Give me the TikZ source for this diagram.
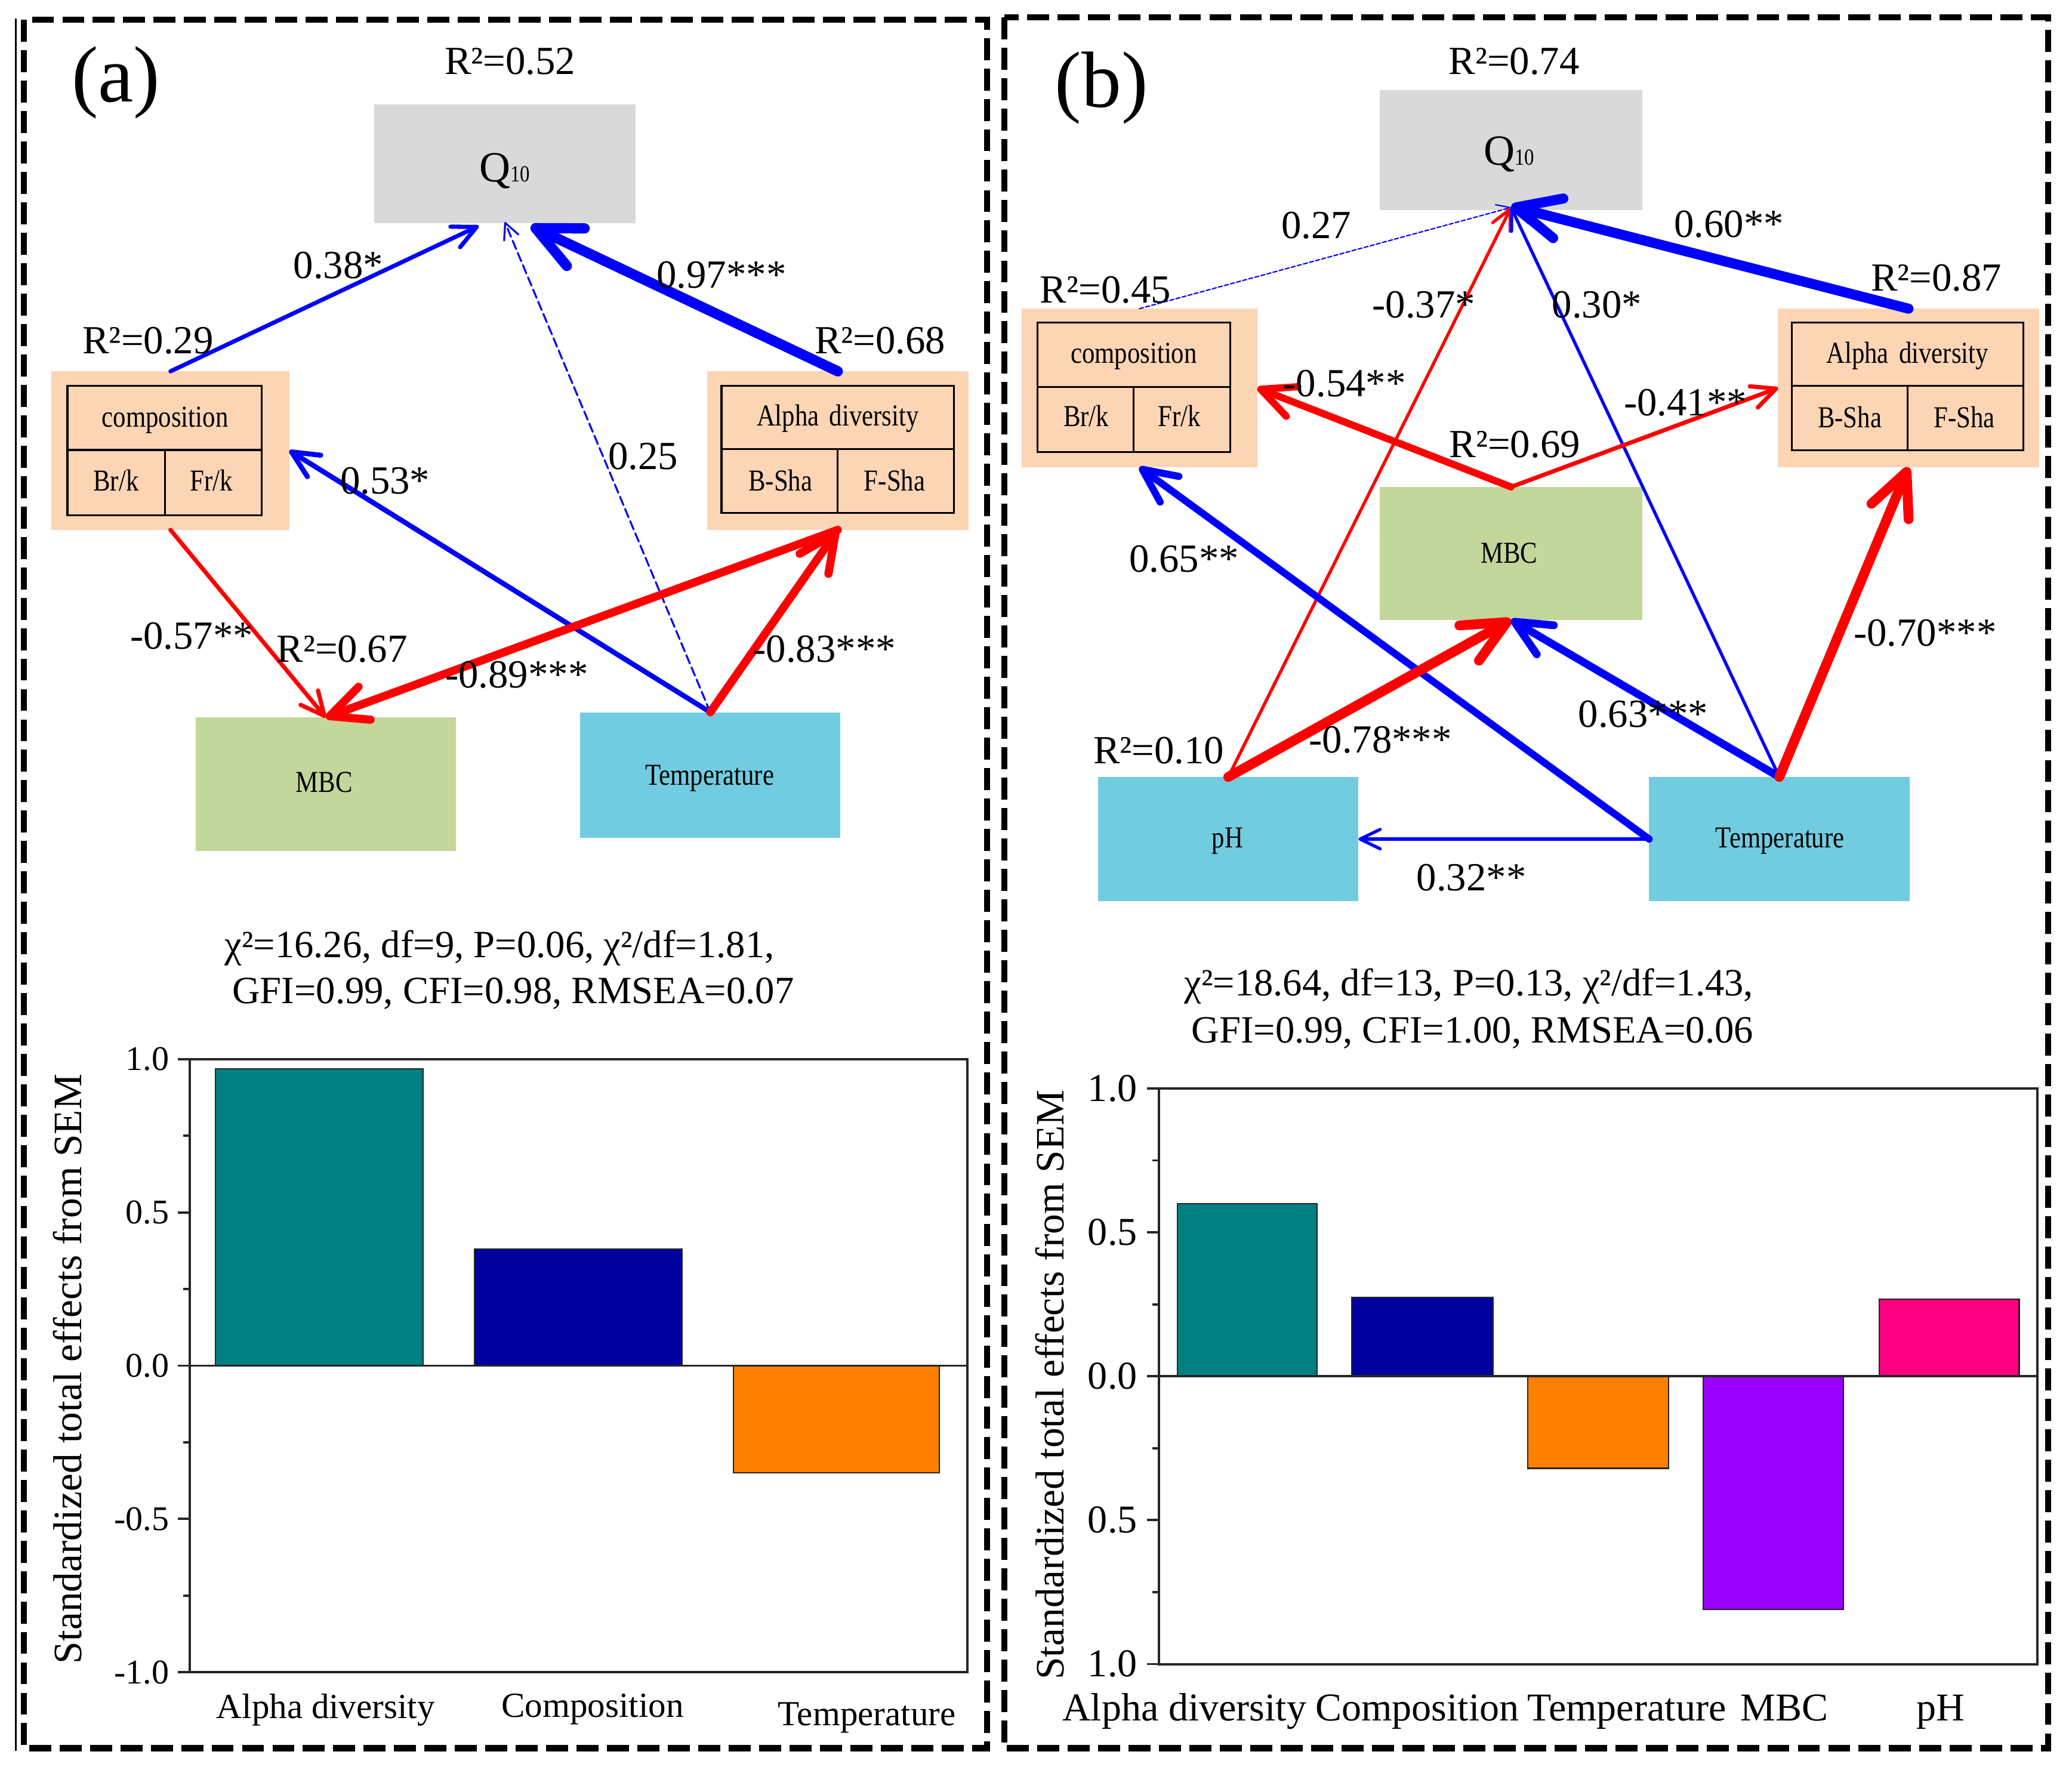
\documentclass[tikz,border=0pt]{standalone}
\usepackage{fontspec}
\usepackage{graphicx}
\setmainfont{Liberation Serif}
\usetikzlibrary{arrows.meta,calc,fit}
\newcommand\fsz[1]{\fontsize{#1}{#1}\selectfont}
\newcommand\boxtext[1]{\scalebox{0.84}[1]{#1}}
\definecolor{qgray}{HTML}{D9D9D9}
\definecolor{peach}{HTML}{FCD5B5}
\definecolor{mbcgreen}{HTML}{C3D69B}
\definecolor{tempblue}{HTML}{72CCE0}
\definecolor{ablue}{HTML}{0000FF}
\definecolor{ared}{HTML}{FF0000}
\definecolor{barteal}{HTML}{008080}
\definecolor{barnavy}{HTML}{0000A0}
\definecolor{barorange}{HTML}{FF8000}
\definecolor{barpurple}{HTML}{9900FF}
\definecolor{barpink}{HTML}{FF0080}
\definecolor{axisgray}{HTML}{262626}
\tikzset{
  boxnode/.style={inner sep=0pt, outer sep=0pt},
  tabnode/.style={inner sep=0pt, outer sep=0pt, draw=black, line width=0.9pt},
  tabline/.style={draw=black, line width=0.9pt},
  lab/.style={inner sep=0pt, anchor=base, font=\fsz{19pt}},
  btxt/.style={inner sep=0pt, anchor=base, font=\fsz{14.5pt}},
  ticklab/.style={inner sep=0pt, anchor=east},
  arr/.style={-{Straight Barb[length=4.5pt 3.4, width=4.6pt 3.1, round]}, line cap=round},
  bluearr/.style={arr, draw=ablue, line width=#1},
  redarr/.style={arr, draw=ared, line width=#1},
  panelborder/.style={draw=black, line width=3pt, dash pattern=on 10.5pt off 4pt},
  axisline/.style={draw=axisgray, line width=1.1pt},
  bar/.style={draw=axisgray, line width=0.6pt},
}
\begin{document}
\begin{tikzpicture}[x=0.022143cm, y=-0.022143cm]
\useasboundingbox (0,0) rectangle (1568,1336.78);
\fill[white] (0,0) rectangle (1568,1336.78);

% ---------- panel borders
\draw[panelborder] (18,15) rectangle (747,1323);
\draw[panelborder] (760,13) rectangle (1550,1323);
\draw[line width=0.7pt] (12,14) -- (12,1325);

% ================= PANEL (a) =================
\node[boxnode, fill=qgray, fit={(283,79) (481,169)}] (qA) {};
\node[boxnode, fill=peach, fit={(39,281) (219,401)}] (compA) {};
\node[tabnode, fit={(51,292) (198,390)}] (compAtab) {};
\draw[tabline] (51,340.5) -- (198,340.5) (125,340.5) -- (125,390);
\node[boxnode, fill=peach, fit={(535,281) (733,401)}] (alphaA) {};
\node[tabnode, fit={(546,292) (722,388)}] (alphaAtab) {};
\draw[tabline] (546,340) -- (722,340) (634,340) -- (634,388);
\node[boxnode, fill=mbcgreen, fit={(148,543) (345,644)}] (mbcA) {};
\node[boxnode, fill=tempblue, fit={(439,539) (636,634)}] (tempA) {};

% arrows (a)
\draw[bluearr=2pt] (compA.north) -- ($(qA.south west)!0.4!(qA.south east)+(0,2)$);
\draw[bluearr=4.9pt] (alphaA.north) -- ($(qA.south west)!0.6!(qA.south east)+(0,2)$);
\draw[bluearr=0.9pt, dash pattern=on 4.3pt off 2pt] (tempA.north) -- ($(qA.south)+(0,-1)$);
\draw[bluearr=2.4pt] (tempA.north) -- (compA.east);
\draw[redarr=2pt] (compA.south) -- (mbcA.north);
\draw[redarr=3.9pt] (alphaA.south) -- (mbcA.north);
\draw[redarr=3.9pt] (tempA.north) -- (alphaA.south);

% box texts (a)
\node[inner sep=0pt, anchor=base] (qAt) at (382,137.4) {\fsz{20.5pt}Q{\fsz{11pt}\scalebox{0.85}[1]{10}}};
\node[btxt] (compAt) at (124.9,323) {\boxtext{composition}};
\node[btxt] (brkA) at (87.8,371.5) {\boxtext{Br/k}};
\node[btxt] (frkA) at (160,371.5) {\boxtext{Fr/k}};
\node[btxt] (alphaAt) at (634,322) {\boxtext{Alpha\hspace{0.4em}diversity}};
\node[btxt] (bshaA) at (590.6,371.5) {\boxtext{B-Sha}};
\node[btxt] (fshaA) at (677,371.5) {\boxtext{F-Sha}};
\node[btxt] (mbcAt) at (245.4,599.6) {\boxtext{MBC}};
\node[btxt] (tempAt) at (537,594) {\boxtext{Temperature}};

% labels (a)
\node[inner sep=0pt, anchor=base, font=\fsz{38pt}] (panA) at (87.7,76.8) {(a)};
\node[lab] (r2qA) at (386,56.2) {R²=0.52};
\node[lab] (r2cA) at (112,267.8) {R²=0.29};
\node[lab] (r2aA) at (666,267.8) {R²=0.68};
\node[lab] (l038) at (256,210.8) {0.38*};
\node[lab] (l097) at (546,218) {0.97***};
\node[lab] (l053) at (291.4,373.7) {0.53*};
\node[lab] (l025) at (486.7,355) {0.25};
\node[lab] (l057) at (145,491.2) {-0.57**};
\node[lab] (r2mA) at (258.8,501) {R²=0.67};
\node[lab] (l089) at (391,520.6) {-0.89***};
\node[lab] (l083) at (623.8,501) {-0.83***};

% fit indices (a)
\node[inner sep=0pt, anchor=base, font=\fsz{18.4pt}] (fitA1) at (378,724.5) {χ²=16.26, df=9, P=0.06, χ²/df=1.81,};
\node[inner sep=0pt, anchor=base, font=\fsz{18.4pt}] (fitA2) at (388.3,759.4) {GFI=0.99, CFI=0.98, RMSEA=0.07};

% bar chart (a): zero at 1033.5, 232 per unit
\draw[bar, fill=barteal] (163,1033.5) rectangle (320,809);
\draw[bar, fill=barnavy] (359,1033.5) rectangle (516,945.3);
\draw[bar, fill=barorange] (555,1033.5) rectangle (711,1114.7);
\draw[axisline] (143.5,801.6) rectangle (732,1265.5);
\draw[axisline] (143.5,1033.5) -- (732,1033.5);
\foreach \v in {1,0.5,0,-0.5,-1} \draw[axisline] (134.5,{1033.5-232*\v}) -- (143.5,{1033.5-232*\v});
\foreach \v in {0.75,0.25,-0.25,-0.75} \draw[axisline] (138.5,{1033.5-232*\v}) -- (143.5,{1033.5-232*\v});
\foreach \v/\t in {1/1.0,0.5/0.5,0/0.0,-0.5/-0.5,-1/-1.0}
  \node[ticklab, font=\fsz{16.5pt}] at (128.3,{1033.5-232*\v}) {\t};
\node[inner sep=0pt, anchor=base, rotate=90, font=\fsz{19.2pt}] (ylabA) at (61.5,1036) {Standardized total effects from SEM};
\node[inner sep=0pt, anchor=base, font=\fsz{16.8pt}] (xA1) at (246.5,1300.6) {Alpha diversity};
\node[inner sep=0pt, anchor=base, font=\fsz{16.8pt}] (xA2) at (448.5,1299.7) {Composition};
\node[inner sep=0pt, anchor=base, font=\fsz{16.8pt}] (xA3) at (656,1306) {Temperature};

% ================= PANEL (b) =================
\node[boxnode, fill=qgray, fit={(1044,68) (1243,159)}] (qB) {};
\node[boxnode, fill=peach, fit={(773,233.6) (951.5,353.6)}] (compB) {};
\node[tabnode, fit={(785,244) (931,342)}] (compBtab) {};
\draw[tabline] (785,293) -- (931,293) (858,293) -- (858,342);
\node[boxnode, fill=peach, fit={(1345.5,233.6) (1543,353.6)}] (alphaB) {};
\node[tabnode, fit={(1356,244) (1531,340.6)}] (alphaBtab) {};
\draw[tabline] (1356,292) -- (1531,292) (1443.6,292) -- (1443.6,340.6);
\node[boxnode, fill=mbcgreen, fit={(1044,368.5) (1243,469)}] (mbcB) {};
\node[boxnode, fill=tempblue, fit={(831,588) (1028,682)}] (phB) {};
\node[boxnode, fill=tempblue, fit={(1248,588) (1445,682)}] (tempB) {};

% arrows (b)
\draw[bluearr=0.6pt, dash pattern=on 2pt off 1pt] (compB.north) -- ($(qB.south)+(0,-2)$);
\draw[bluearr=4.8pt] (alphaB.north) -- ($(qB.south)+(0,-3)$);
\draw[redarr=1.5pt] (phB.north) -- ($(qB.south)+(0,-2)$);
\draw[bluearr=1.5pt] (tempB.north) -- ($(qB.south)+(0,-2)$);
\draw[redarr=3.4pt] (mbcB.north) -- (compB.east);
\draw[redarr=2pt] (mbcB.north) -- (alphaB.west);
\draw[bluearr=3.4pt] (tempB.west) -- (compB.south);
\draw[bluearr=1.5pt] (tempB.west) -- (phB.east);
\draw[redarr=4.7pt] (phB.north) -- (mbcB.south);
\draw[bluearr=3.7pt] (tempB.north) -- (mbcB.south);
\draw[redarr=4.7pt] (tempB.north) -- (alphaB.south);

% box texts (b)
\node[inner sep=0pt, anchor=base] (qBt) at (1142,125) {\fsz{20.5pt}Q{\fsz{11pt}\scalebox{0.85}[1]{10}}};
\node[btxt] (compBt) at (858,275) {\boxtext{composition}};
\node[btxt] (brkB) at (822,322.6) {\boxtext{Br/k}};
\node[btxt] (frkB) at (892.4,322.6) {\boxtext{Fr/k}};
\node[btxt] (alphaBt) at (1443.4,275) {\boxtext{Alpha\hspace{0.4em}diversity}};
\node[btxt] (bshaB) at (1399.8,323.5) {\boxtext{B-Sha}};
\node[btxt] (fshaB) at (1486.5,323.5) {\boxtext{F-Sha}};
\node[btxt] (mbcBt) at (1142,426) {\boxtext{MBC}};
\node[btxt] (phBt) at (929,641.6) {\boxtext{pH}};
\node[btxt] (tempBt) at (1347,641.6) {\boxtext{Temperature}};

% labels (b)
\node[inner sep=0pt, anchor=base, font=\fsz{38pt}] (panB) at (833.5,80.9) {(b)};
\node[lab] (r2qB) at (1145.8,56.2) {R²=0.74};
\node[lab] (l027) at (996,180.6) {0.27};
\node[lab] (r2cB) at (836.6,229) {R²=0.45};
\node[lab] (l037) at (1077.4,240.4) {-0.37*};
\node[lab] (l030) at (1208.5,240.4) {0.30*};
\node[lab] (l060) at (1308.4,179.7) {0.60**};
\node[lab] (r2aB) at (1465.3,220) {R²=0.87};
\node[lab] (l054) at (1017.3,300) {-0.54**};
\node[lab] (l041) at (1275.4,314.5) {-0.41**};
\node[lab] (r2mB) at (1146.3,346) {R²=0.69};
\node[lab] (l065) at (896,432.7) {0.65**};
\node[lab] (l070) at (1456.8,488.8) {-0.70***};
\node[lab] (l063) at (1243.4,550.4) {0.63***};
\node[lab] (l078) at (1044.6,569.7) {-0.78***};
\node[lab] (r2pB) at (876.9,578) {R²=0.10};
\node[lab] (l032) at (1113.5,674) {0.32**};

% fit indices (b)
\node[inner sep=0pt, anchor=base, font=\fsz{18.4pt}] (fitB1) at (1111.5,753.7) {χ²=18.64, df=13, P=0.13, χ²/df=1.43,};
\node[inner sep=0pt, anchor=base, font=\fsz{18.4pt}] (fitB2) at (1114.3,789.2) {GFI=0.99, CFI=1.00, RMSEA=0.06};

% bar chart (b): zero at 1041.5, 217.8 per unit
\draw[bar, fill=barteal] (890.9,1041.5) rectangle (996.8,910.8);
\draw[bar, fill=barnavy] (1023,1041.5) rectangle (1129.8,981.8);
\draw[bar, fill=barorange] (1156,1041.5) rectangle (1262.5,1111.2);
\draw[bar, fill=barpurple] (1288.8,1041.5) rectangle (1395,1217.9);
\draw[bar, fill=barpink] (1422,1041.5) rectangle (1528,983.3);
\draw[axisline] (877,823.7) rectangle (1541.7,1259.4);
\draw[axisline] (877,1041.5) -- (1541.7,1041.5);
\foreach \v in {1,0.5,0,-0.5,-1} \draw[axisline] (868,{1041.5-217.8*\v}) -- (877,{1041.5-217.8*\v});
\foreach \v in {0.75,0.25,-0.25,-0.75} \draw[axisline] (872,{1041.5-217.8*\v}) -- (877,{1041.5-217.8*\v});
\foreach \v/\t in {1/1.0,0.5/0.5,0/0.0,-0.5/0.5,-1/1.0}
  \node[ticklab, font=\fsz{18.8pt}] at (860.9,{1041.5-217.8*\v}) {\t};
\node[inner sep=0pt, anchor=base, rotate=90, font=\fsz{19.2pt}] (ylabB) at (805,1048) {Standardized total effects from SEM};
\node[inner sep=0pt, anchor=base, font=\fsz{18.8pt}] (xB1) at (896.3,1302) {Alpha diversity};
\node[inner sep=0pt, anchor=base, font=\fsz{18.8pt}] (xB2) at (1072.5,1302) {Composition};
\node[inner sep=0pt, anchor=base, font=\fsz{18.8pt}] (xB3) at (1231,1302) {Temperature};
\node[inner sep=0pt, anchor=base, font=\fsz{18.8pt}] (xB4) at (1350.2,1302) {MBC};
\node[inner sep=0pt, anchor=base, font=\fsz{18.8pt}] (xB5) at (1468.4,1302) {pH};
\end{tikzpicture}
\end{document}
